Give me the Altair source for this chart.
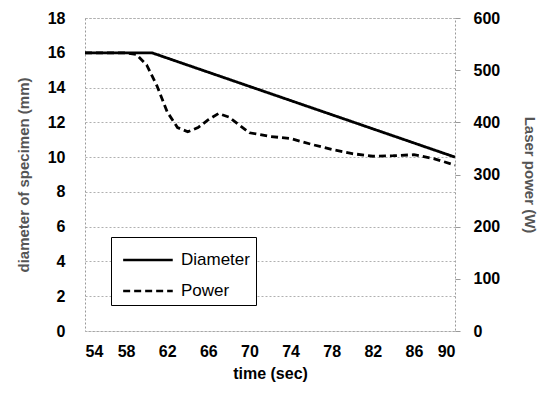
import altair as alt
import pandas as pd

# Diameter (mm), left axis
d_time = [54, 56, 58, 60.5, 90]
d_val = [16, 16, 16, 16, 10]

# Laser power (W), right axis
p_time = [54, 56, 58, 59, 60, 61, 62, 63, 64, 65, 66, 67, 68, 69, 70, 72, 74, 76, 78, 80, 82, 84, 86, 88, 90]
p_val = [533, 533, 533, 530, 510, 470, 420, 390, 382, 390, 405, 417, 410, 395, 380, 373, 369, 358, 348, 340, 335, 336, 338, 330, 318]

x_ticks = [54, 58, 62, 66, 70, 74, 78, 82, 86, 90]
left_ticks = [0, 2, 4, 6, 8, 10, 12, 14, 16, 18]
right_ticks = [0, 100, 200, 300, 400, 500, 600]

dd = pd.DataFrame({"t": d_time, "v": d_val, "series": "Diameter"})
pp = pd.DataFrame({"t": p_time, "v": p_val, "series": "Power"})

FONT = "Liberation Sans"

x = alt.X("t:Q", scale=alt.Scale(domain=[54, 90], nice=False),
          axis=alt.Axis(values=x_ticks, title="time (sec)", grid=False, ticks=False,
                        domain=False, labelPadding=12, titlePadding=6, titleFontSize=16))

dash = alt.StrokeDash("series:N",
                      scale=alt.Scale(domain=["Diameter", "Power"], range=[[1, 0], [7, 4]]),
                      legend=alt.Legend(title=None, orient="none", legendX=26, legendY=219,
                                        symbolType="M-0.7,0H2.5", symbolSize=961,
                                        symbolStrokeWidth=2.5, symbolStrokeColor="black",
                                        labelFontSize=17, labelFont=FONT, labelColor="black",
                                        labelFontWeight="normal",
                                        rowPadding=6, padding=6, strokeColor="black",
                                        fillColor="white", labelOffset=30))

left = alt.Chart(dd).mark_line(color="black", strokeWidth=2.8).encode(
    x=x,
    y=alt.Y("v:Q", scale=alt.Scale(domain=[0, 18], nice=False),
            axis=alt.Axis(values=left_ticks, title="diameter of specimen (mm)", grid=True,
                          gridColor="#b0b0b0", gridDash=[2, 2], domain=False, ticks=False,
                          labelPadding=20, titlePadding=16, titleColor="#555")),
    strokeDash=dash,
)

right = alt.Chart(pp).mark_line(color="black", strokeWidth=2.8).encode(
    x=x,
    y=alt.Y("v:Q", scale=alt.Scale(domain=[0, 600], nice=False),
            axis=alt.Axis(values=right_ticks, title="Laser power (W)", orient="right", grid=False,
                          domain=False, ticks=True, tickSize=5, tickColor="#999",
                          labelPadding=13, titlePadding=22, titleColor="#555")),
    strokeDash=dash,
)

chart = alt.layer(left, right).resolve_scale(y="independent").properties(
    width=370, height=313, padding={"left": 8, "top": 2, "right": 2, "bottom": 2}
).configure_view(stroke="#999", strokeDash=[2, 2]).configure_axis(
    labelFont=FONT, titleFont=FONT, labelFontSize=16, labelFontWeight="bold",
    labelColor="black", titleFontSize=15, titleFontWeight="bold"
)

chart.save("out.html", embed_options={"renderer": "svg", "actions": False})
